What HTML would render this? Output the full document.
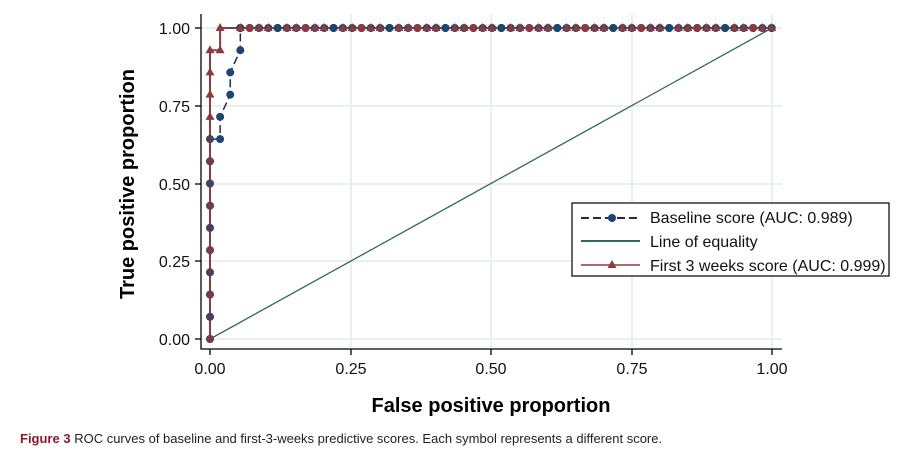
<!DOCTYPE html>
<html><head><meta charset="utf-8"><style>
body{margin:0;background:#fff;width:897px;height:450px;overflow:hidden;font-family:"Liberation Sans",sans-serif}
</style></head><body>
<svg id="s" width="897" height="450" xmlns="http://www.w3.org/2000/svg" font-family="Liberation Sans, sans-serif">
<g stroke="#eaf0f2" stroke-width="2">
<line x1="351" y1="14" x2="351" y2="348"/><line x1="491" y1="14" x2="491" y2="348"/><line x1="632" y1="14" x2="632" y2="348"/><line x1="772" y1="14" x2="772" y2="348"/>
<line x1="202" y1="28" x2="782" y2="28"/><line x1="202" y1="106" x2="782" y2="106"/><line x1="202" y1="184" x2="782" y2="184"/><line x1="202" y1="261" x2="782" y2="261"/><line x1="202" y1="339" x2="782" y2="339"/>
</g>
<g stroke="#000" stroke-width="1.3" fill="none">
<polyline points="201,14 201,349 782,349"/>
<line x1="195" y1="28" x2="201" y2="28"/><line x1="195" y1="106" x2="201" y2="106"/><line x1="195" y1="184" x2="201" y2="184"/><line x1="195" y1="261" x2="201" y2="261"/><line x1="195" y1="339" x2="201" y2="339"/>
<line x1="210" y1="349" x2="210" y2="355"/><line x1="351" y1="349" x2="351" y2="355"/><line x1="491" y1="349" x2="491" y2="355"/><line x1="632" y1="349" x2="632" y2="355"/><line x1="772" y1="349" x2="772" y2="355"/>
</g>
<g font-size="16" fill="#111" text-anchor="end">
<text x="190" y="34">1.00</text><text x="190" y="112">0.75</text><text x="190" y="190">0.50</text><text x="190" y="267">0.25</text><text x="190" y="345">0.00</text>
</g>
<g font-size="16" fill="#111" text-anchor="middle">
<text x="210" y="374">0.00</text><text x="351" y="374">0.25</text><text x="491" y="374">0.50</text><text x="632" y="374">0.75</text><text x="772" y="374">1.00</text>
</g>
<text x="491" y="412" font-size="20" font-weight="bold" text-anchor="middle">False positive proportion</text>
<text transform="translate(134,184) rotate(-90)" font-size="20" font-weight="bold" text-anchor="middle">True positive proportion</text>
<line x1="210" y1="339" x2="772" y2="28" stroke="#2e6a5e" stroke-width="1.3"/>
<g id="pts"></g>
<rect x="572" y="203" width="317" height="73" fill="#fff" stroke="#000" stroke-width="1.2"/>
<line x1="581" y1="218" x2="640" y2="218" stroke="#1d2d4e" stroke-width="2" stroke-dasharray="8,4"/>
<circle cx="612" cy="218" r="4" fill="#1a4670"/>
<line x1="581" y1="241" x2="640" y2="241" stroke="#2e6a5e" stroke-width="2"/>
<line x1="581" y1="265" x2="640" y2="265" stroke="#8b3a3f" stroke-width="1.5"/>
<polygon points="612,260 616.5,268 607.5,268" fill="#8b3a3f"/>
<g font-size="16" fill="#111">
<text x="650" y="223">Baseline score (AUC: 0.989)</text>
<text x="650" y="247">Line of equality</text>
<text x="650" y="271">First 3 weeks score (AUC: 0.999)</text>
</g>
<text x="20" y="443" font-size="13" fill="#222"><tspan font-weight="bold" fill="#8b1a2e">Figure 3</tspan> ROC curves of baseline and first-3-weeks predictive scores. Each symbol represents a different score.</text>
</svg>
<script>
(function(){
var g=document.getElementById('pts'),NS='http://www.w3.org/2000/svg';
function X(v){return 210+561.6*v}function Y(v){return 339-311*v}
function pl(pts,st,w,da){var p=document.createElementNS(NS,'polyline');p.setAttribute('points',pts.map(function(a){return X(a[0])+','+Y(a[1])}).join(' '));p.setAttribute('fill','none');p.setAttribute('stroke',st);p.setAttribute('stroke-width',w);if(da)p.setAttribute('stroke-dasharray',da);g.appendChild(p)}
function cc(x,y,col,op){var e=document.createElementNS(NS,'circle');e.setAttribute('cx',X(x));e.setAttribute('cy',Y(y));e.setAttribute('r',4);e.setAttribute('fill',col||'#1a4670');if(op)e.setAttribute('opacity',op);g.appendChild(e)}
function t(x,y){var e=document.createElementNS(NS,'polygon');var a=X(x),b=Y(y);e.setAttribute('points',a+','+(b-5)+' '+(a+4.5)+','+(b+3)+' '+(a-4.5)+','+(b+3));e.setAttribute('fill','#8b3a3f');g.appendChild(e)}
var s=1/14,tops=[];for(var x=0.054;x<=1.001;x+=0.0166)tops.push(x);
var blue=[];for(var i=0;i<=9;i++)blue.push([0,i*s]);blue.push([0.018,9*s],[0.018,10*s],[0.036,11*s],[0.036,12*s],[0.054,13*s],[0.054,1]);tops.forEach(function(x){blue.push([x,1])});blue.push([1,1]);
pl(blue,'#1d2d4e',1.5,'8,4');
pl([[0,0],[0,13*s],[0.018,13*s],[0.018,1],[1,1]],'#8b3a3f',2);
blue.forEach(function(p){cc(p[0],p[1])});
for(var i=0;i<=9;i++)cc(0,i*s,'#8b3a3f',(i%2==1)?0.4:0.8);
for(var i=10;i<=13;i++)t(0,i*s);t(0.018,13*s);t(0.018,1);
tops.forEach(function(x,k){if(k%3!=1)t(x,1);else cc(x,1,k%6==1?'#8b3a3f':'#1a4670')});
})();
</script>
</body></html>
